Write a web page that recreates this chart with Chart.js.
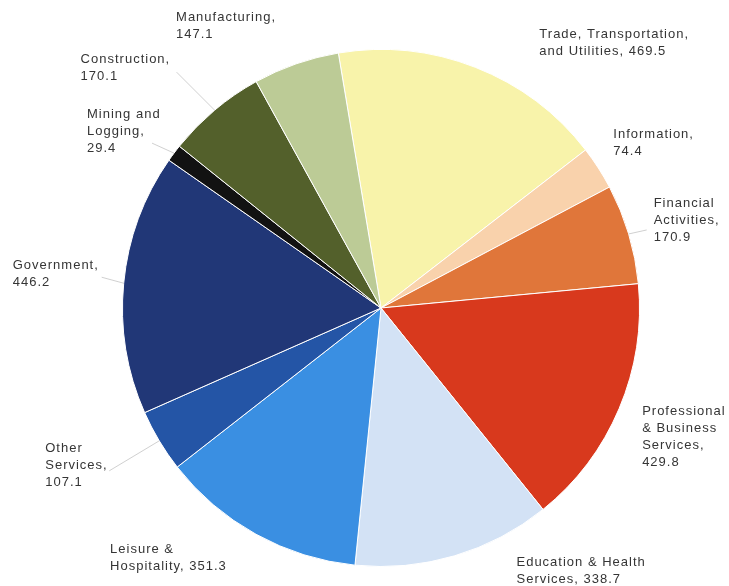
<!DOCTYPE html>
<html>
<head>
<meta charset="utf-8">
<script src="https://cdn.jsdelivr.net/npm/chart.js@4.4.1/dist/chart.umd.min.js"></script>
<style>
  body { margin: 0; background: #fff; }
  canvas { display: block; }
</style>
</head>
<body>
<canvas id="sectorChart" width="729" height="586"></canvas>
<script>
// data
const sectors = [
  'Trade, Transportation, and Utilities', 'Information', 'Financial Activities',
  'Professional & Business Services', 'Education & Health Services',
  'Leisure & Hospitality', 'Other Services', 'Government',
  'Mining and Logging', 'Construction', 'Manufacturing'
];
const jobs = [469.5, 74.4, 170.9, 429.8, 338.7, 351.3, 107.1, 446.2, 29.4, 170.1, 147.1];
// how each label is broken into lines (value is appended from jobs)
const labelLines = [
  ['Trade, Transportation,', 'and Utilities, {v}'],
  ['Information,', '{v}'],
  ['Financial', 'Activities,', '{v}'],
  ['Professional', '& Business', 'Services,', '{v}'],
  ['Education & Health', 'Services, {v}'],
  ['Leisure &', 'Hospitality, {v}'],
  ['Other', 'Services,', '{v}'],
  ['Government,', '{v}'],
  ['Mining and', 'Logging,', '{v}'],
  ['Construction,', '{v}'],
  ['Manufacturing,', '{v}']
];

const sliceColors = [
  '#f8f3aa', '#f9d2ac', '#e0763a', '#d8391d', '#d3e2f5', '#3a8fe2',
  '#2455a6', '#213777', '#121212', '#53602b', '#bccb96'
];

// label placement relative to the slice's outer edge at mid angle
const labelShift = [
  [64, -33], [15, -34], [25, -31], [23, 3], [62, 7], [-146, 15],
  [-114, 8], [-111, -18], [-87, -39], [-134, -51], [-120, -46]
];
// leader lines (end point relative to outer edge), null = none
const leaderShift = [
  null, null, [18, -4], null, null, null,
  [-50, 30], [-22, -6], [-22, -10], [-38, -38], null
];

const outsideLabels = {
  id: 'outsideLabels',
  afterDatasetsDraw(chart) {
    const ctx = chart.ctx;
    const arcs = chart.getDatasetMeta(0).data;
    ctx.save();
    ctx.font = '13px "Liberation Sans", Arial, sans-serif';
    ctx.letterSpacing = '1px';
    ctx.fillStyle = '#353535';
    ctx.textBaseline = 'middle';
    ctx.textAlign = 'left';
    arcs.forEach((arc, i) => {
      const p = arc.getProps(['x', 'y', 'startAngle', 'endAngle', 'outerRadius'], true);
      const mid = (p.startAngle + p.endAngle) / 2;
      const ex = p.x + Math.cos(mid) * p.outerRadius;
      const ey = p.y + Math.sin(mid) * p.outerRadius;
      if (leaderShift[i]) {
        ctx.strokeStyle = '#c4c4c4';
        ctx.lineWidth = 0.8;
        ctx.beginPath();
        ctx.moveTo(ex, ey);
        ctx.lineTo(ex + leaderShift[i][0], ey + leaderShift[i][1]);
        ctx.stroke();
      }
      const lx = ex + labelShift[i][0];
      const ly = ey + labelShift[i][1];
      labelLines[i].forEach((ln, k) => {
        ctx.fillText(ln.replace('{v}', jobs[i].toFixed(1)), lx, ly + k * 17);
      });
    });
    ctx.restore();
  }
};

new Chart(document.getElementById('sectorChart'), {
  type: 'pie',
  data: {
    labels: sectors,
    datasets: [{
      data: jobs,
      backgroundColor: sliceColors,
      borderColor: '#ffffff',
      borderWidth: 1
    }]
  },
  options: {
    responsive: false,
    animation: false,
    rotation: -9.5,
    layout: { padding: { top: 48, bottom: 18, left: 122, right: 89 } },
    plugins: {
      legend: { display: false },
      tooltip: { enabled: false }
    }
  },
  plugins: [outsideLabels]
});
</script>
</body>
</html>
